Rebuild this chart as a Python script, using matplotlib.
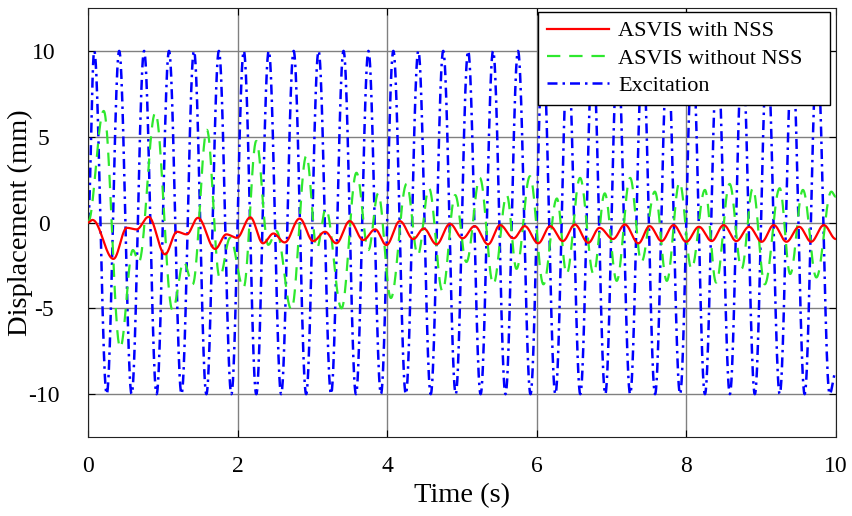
import numpy as np
import matplotlib
matplotlib.use("Agg")
import matplotlib.pyplot as plt

# extrema (time in s, displacement in mm)
exc_t = [0.00, 0.083, 0.25, 0.417, 0.583, 0.75, 0.917, 1.083, 1.25, 1.417, 1.583,
         1.75, 1.917, 2.083, 2.25, 2.417, 2.583, 2.75, 2.917, 3.083, 3.25,
         3.417, 3.583, 3.75, 3.917, 4.083, 4.25, 4.417, 4.583, 4.75, 4.917,
         5.083, 5.25, 5.417, 5.583, 5.75, 5.917, 6.083, 6.25, 6.417, 6.583,
         6.75, 6.917, 7.083, 7.25, 7.417, 7.583, 7.75, 7.917, 8.083, 8.25,
         8.417, 8.583, 8.75, 8.917, 9.083, 9.25, 9.417, 9.583, 9.75, 9.917, 10.0]
exc_y = [0] + [10, -10] * 30 + [-8.7]

with_t = [0.00, 0.06, 0.34, 0.52, 0.65, 0.81, 1.03, 1.19, 1.32, 1.47, 1.70,
          1.85, 1.99, 2.17, 2.34, 2.48, 2.63, 2.83, 3.01, 3.17, 3.32, 3.50,
          3.68, 3.84, 3.99, 4.17, 4.35, 4.49, 4.66, 4.84, 5.01, 5.17, 5.35,
          5.51, 5.69, 5.84, 6.02, 6.18, 6.35, 6.51, 6.69, 6.84, 7.02, 7.18,
          7.36, 7.51, 7.67, 7.83, 8.00, 8.17, 8.34, 8.50, 8.67, 8.84, 9.01,
          9.17, 9.34, 9.51, 9.67, 9.84, 10.0]
with_y = [0.0, 0.15, -2.12, -0.31, -0.40, 0.33, -1.85, -0.54, -0.69, 0.27, -1.54,
          -0.69, -0.89, 0.30, -1.21, -0.64, -1.16, 0.23, -1.08, -0.54, -1.21, 0.08,
          -1.02, -0.40, -1.31, 0.08, -0.96, -0.35, -1.27, -0.08, -0.92, -0.21, -1.27,
          -0.15, -0.92, -0.21, -1.21, -0.21, -1.08, -0.12, -1.18, -0.31, -0.96, -0.12,
          -1.21, -0.21, -1.08, -0.15, -1.12, -0.25, -1.08, -0.15, -1.08, -0.25, -1.12,
          -0.15, -1.12, -0.25, -1.12, -0.15, -0.96]

without_t = [0.00, 0.21, 0.43, 0.60, 0.68, 0.90, 1.13, 1.28, 1.40, 1.59, 1.76,
             1.90, 2.08, 2.25, 2.41, 2.52, 2.72, 2.92, 3.06, 3.18, 3.39, 3.59,
             3.75, 3.88, 4.05, 4.26, 4.41, 4.56, 4.74, 4.91, 5.06, 5.24, 5.42,
             5.60, 5.73, 5.91, 6.09, 6.27, 6.40, 6.58, 6.76, 6.91, 7.07, 7.25,
             7.40, 7.58, 7.74, 7.91, 8.07, 8.25, 8.40, 8.58, 8.74, 8.89, 9.05,
             9.25, 9.39, 9.56, 9.74, 9.94, 10.0]
without_y = [0.0, 6.5, -7.3, -1.6, -2.3, 6.4, -5.1, -2.3, -3.6, 5.4, -3.2,
             -0.9, -3.8, 4.75, -1.3, -0.5, -5.07, 3.9, -1.5, 0.8, -5.0, 2.9,
             -1.6, 1.7, -4.4, 2.25, -1.9, 2.0, -4.0, 1.6, -2.3, 2.6, -3.6,
             1.6, -2.7, 2.7, -3.6, 1.4, -3.0, 2.6, -3.0, 1.7, -3.4, 2.6,
             -2.3, 1.8, -3.4, 2.35, -2.7, 1.9, -3.5, 2.25, -2.7, 2.0, -3.6,
             2.0, -3.0, 1.9, -3.2, 1.8, 1.5]

x_ticks = [0, 2, 4, 6, 8, 10]
y_ticks = [-10, -5, 0, 5, 10]


def smooth(tk, yk, n=40):
    # half-cosine segments between the read extrema
    ts, ys = [], []
    for i in range(len(tk) - 1):
        s = np.linspace(0, 1, n, endpoint=False)
        ts.append(tk[i] + (tk[i + 1] - tk[i]) * s)
        ys.append(yk[i] + (yk[i + 1] - yk[i]) * (1 - np.cos(np.pi * s)) / 2)
    ts.append([tk[-1]])
    ys.append([yk[-1]])
    return np.concatenate(ts), np.concatenate(ys)


plt.rcParams['font.family'] = ['Liberation Serif', 'DejaVu Serif']
plt.rcParams['axes.unicode_minus'] = False

fig = plt.figure(figsize=(8.52, 5.16), dpi=100)
ax = fig.add_axes([0.1033, 0.153, 0.8777, 0.8315])

t, y = smooth(with_t, with_y)
ax.plot(t, y, color='red', lw=1.6, label='ASVIS with NSS', zorder=4)
t, y = smooth(without_t, without_y)
ax.plot(t, y, color='#2ee82e', lw=1.6, ls=(0, (6, 4)), label='ASVIS without NSS', zorder=3)
t, y = smooth(exc_t, exc_y)
ax.plot(t, y, color='blue', lw=1.8, ls=(0, (4, 2, 1, 2)), label='Excitation', zorder=2)

ax.set_xlim(0, 10)
ax.set_ylim(-12.5, 12.5)
ax.set_xticks(x_ticks)
ax.set_yticks(y_ticks)
ax.grid(True, color='#808080', lw=1.0)
ax.set_axisbelow(True)
ax.tick_params(direction='in', top=True, right=True, labelsize=17, length=5)
ax.tick_params(axis='x', pad=14)
ax.tick_params(axis='y', pad=32)
for lab in ax.get_yticklabels():
    lab.set_horizontalalignment('center')
for sp in ax.spines.values():
    sp.set_color('#222222')
ax.set_xlabel('Time (s)', fontsize=20.5, labelpad=4)
ax.set_ylabel('Displacement (mm)', fontsize=20.5, va='center')
ax.yaxis.set_label_coords(-0.091, 0.5)

leg = ax.legend(loc='upper left', bbox_to_anchor=(0.6016, 0.0, 0.3904, 0.9907),
                mode='expand', borderaxespad=0, fontsize=16, frameon=True,
                fancybox=False, edgecolor='black', framealpha=1,
                handlelength=2.8, handletextpad=0.4, labelspacing=0.3,
                borderpad=0.4)
leg.get_frame().set_linewidth(1.0)

fig.savefig('out.png', dpi=100)
